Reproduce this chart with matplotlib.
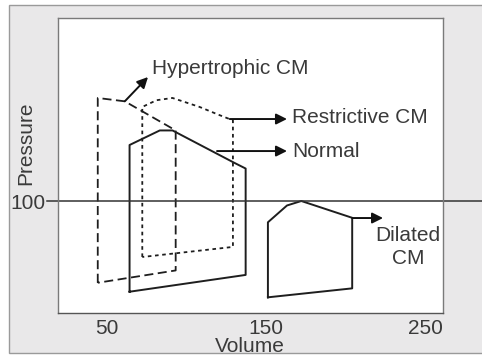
import matplotlib
matplotlib.use("Agg")
import matplotlib.pyplot as plt
from matplotlib.patches import Rectangle

# Pressure-volume loops (volume, pressure)
normal_v = [64, 64, 83, 91, 130, 137, 137, 64]
normal_p = [19, 150, 163, 163, 134, 129, 34, 19]

hcm_v = [44, 44, 61, 93, 93, 44]
hcm_p = [27, 192, 189, 163, 38, 27]

rcm_v = [72, 72, 81, 91, 108, 120, 129, 129, 72]
rcm_p = [50, 184, 190, 192, 184, 177, 172, 59, 50]

dcm_v = [151, 151, 163, 172, 204, 204, 151]
dcm_p = [14, 81, 96, 100, 85, 22, 14]

x_ticks = [50, 150, 250]
y_ticks = [100]

plt.rcParams['font.family'] = ['Liberation Sans', 'DejaVu Sans']
txt = '#3a3a3a'
ink = '#1e1e1e'

fig = plt.figure(figsize=(4.82, 3.58), dpi=100)
fig.patch.set_facecolor('white')

# grey panel behind the plot
fig.patches.append(Rectangle((9 / 482, 1 - 353 / 358), 1.0, 348 / 358,
                             transform=fig.transFigure, facecolor='#e9e8e9',
                             edgecolor='#9a9a9a', lw=1.0, zorder=-10))

ax = fig.add_axes([58 / 482, 1 - 313 / 358, 385 / 482, 295 / 358])
ax.set_zorder(5)
ax.set_facecolor('white')
ax.set_xlim(19.0, 261.1)
ax.set_ylim(0, 263.4)

# curvas
ax.plot(normal_v, normal_p, color=ink, lw=1.4)
ax.plot(hcm_v, hcm_p, color=ink, lw=1.3, dashes=(5, 2.5))
ax.plot(rcm_v, rcm_p, color=ink, lw=1.3, dashes=(2, 2))
ax.plot(dcm_v, dcm_p, color=ink, lw=1.4)

# linha de 100
ax.plot([12, 286], [100, 100], color='#333333', lw=1.1, clip_on=False)

# setas e rótulos
arrow = dict(arrowstyle='-|>', mutation_scale=16, color='#111111', lw=1.4,
             shrinkA=0, shrinkB=0)
ax.annotate('', xy=(75.6, 210.7), xytext=(61, 189), arrowprops=arrow)
ax.annotate('', xy=(163, 173.2), xytext=(127, 173.2), arrowprops=arrow)
ax.annotate('', xy=(163, 144.6), xytext=(119, 144.6), arrowprops=arrow)
ax.annotate('', xy=(223.4, 84.8), xytext=(204, 84.8), arrowprops=arrow)

ax.text(78, 218, 'Hypertrophic CM', fontsize=15, color=txt, va='center', ha='left')
ax.text(166, 175, 'Restrictive CM', fontsize=15, color=txt, va='center', ha='left')
ax.text(166, 143.8, 'Normal', fontsize=15, color=txt, va='center', ha='left')
ax.text(239, 59, 'Dilated\nCM', fontsize=15, color=txt, va='center', ha='center',
        linespacing=1.25)

ax.set_xticks(x_ticks)
ax.set_yticks(y_ticks)
ax.tick_params(length=0, labelsize=15, labelcolor=txt)
ax.tick_params(axis='x', pad=4)
ax.tick_params(axis='y', pad=9)
ax.set_xlabel('Volume', fontsize=15, color=txt)
ax.set_ylabel('Pressure', fontsize=15, color=txt)
ax.xaxis.set_label_coords((250 - 58) / 385, -(346 - 313) / 295)
ax.yaxis.set_label_coords(-32 / 385, (313 - 143) / 295)
ax.xaxis.label.set_va('center')
ax.yaxis.label.set_va('center')

for s in ax.spines.values():
    s.set_color('#7a7a7a')
    s.set_linewidth(1.0)
ax.spines['bottom'].set_color('#555555')

fig.savefig('out.png', dpi=100)
